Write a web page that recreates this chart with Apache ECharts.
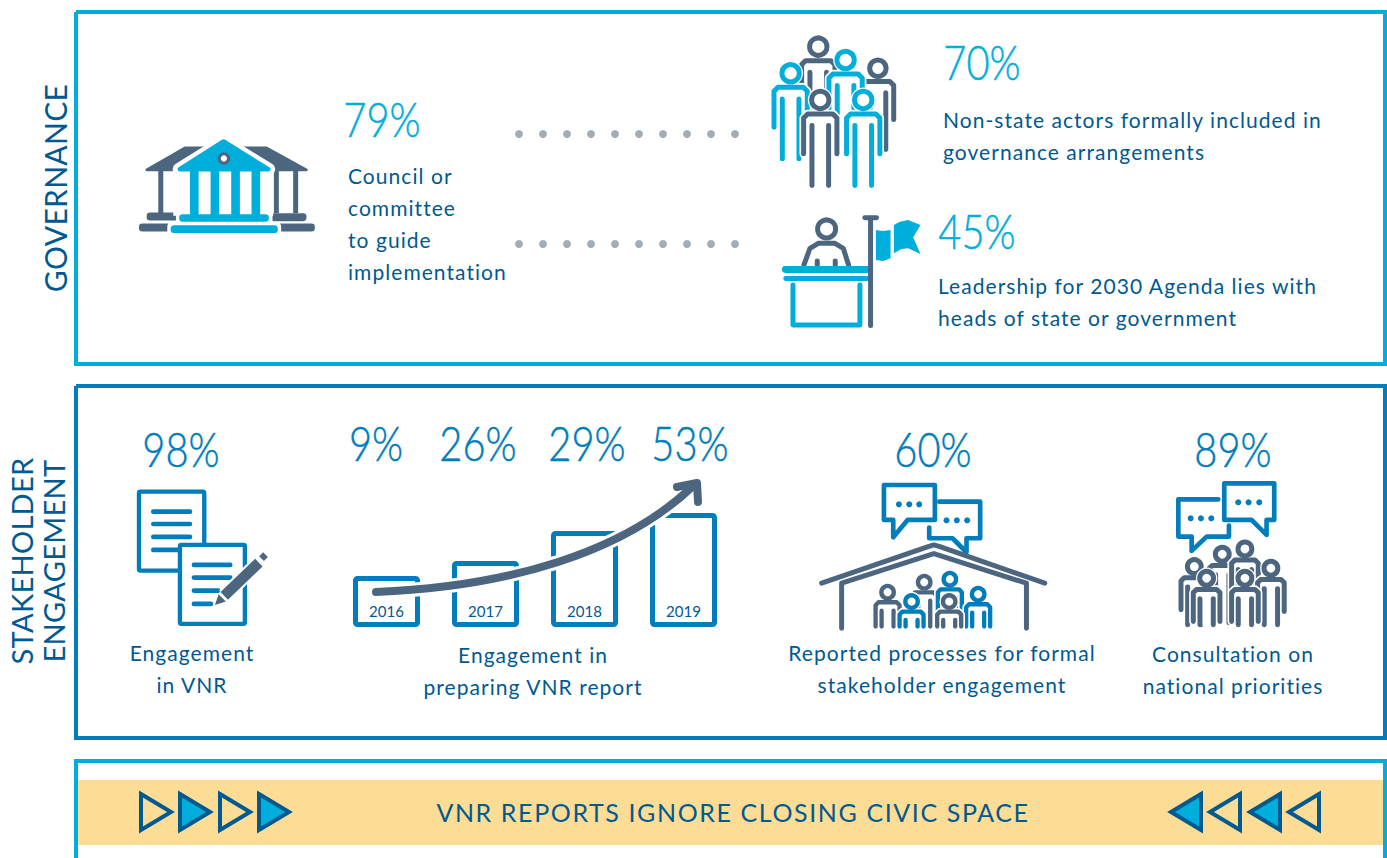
<!DOCTYPE html>
<html>
<head>
<meta charset="utf-8">
<title>VNR governance and stakeholder engagement</title>
<script src="https://cdn.jsdelivr.net/npm/echarts@6/dist/echarts.min.js"></script>
<style>
html, body { margin: 0; padding: 0; background: #fff; }
#main { width: 1387px; height: 858px; }
#main text { letter-spacing: 1.05px; }
#main text[style*="15px"] { letter-spacing: 0; }
#main text[style*="25px"] { letter-spacing: 1.6px; }
#main text[style*="29px"], #main text[style*="30px"] { letter-spacing: 0.3px; }
#main text[style*="48px"] { letter-spacing: 0; }
</style>
</head>
<body>
<div id="main"></div>
<script>
// data
const governanceLabels = [['Council or', 'committee', 'to guide', 'implementation'], ['Non-state actors formally included in', 'governance arrangements'], ['Leadership for 2030 Agenda lies with', 'heads of state or government']]
const governanceValues = [79, 70, 45]
const engagementLabels = [['Engagement', 'in VNR'], ['Reported processes for formal', 'stakeholder engagement'], ['Consultation on', 'national priorities']]
const engagementValues = [98, 60, 89]
const years = ['2016', '2017', '2018', '2019']
const yearValues = [9, 26, 29, 53]
const yearLabels = ['Engagement in', 'preparing VNR report']
// heights of the icon bars, the picture does not draw them to the scale of yearValues
const yearBarHeights = [51, 66, 96, 114]
const bannerText = 'VNR REPORTS IGNORE CLOSING CIVIC SPACE'

const CYAN = '#00aedb'
const BLUE = '#007dba'
const NAVY = '#00598f'
const SLATE = '#4d6680'
const GOLD = '#fddc96'
const DOT = '#a3adb8'
const FONT = 'Lato'

const Z = 10

// text helpers, y is the baseline
const label = (text, x, y, align, size = 21, color = NAVY, extra = {}) => Object.assign({
  type: 'text', x, y: y - size * 0.36, z: Z,
  style: { text, fill: color, font: (size === 48 ? '300 ' : '400 ') + size + 'px ' + FONT, textAlign: align || 'left', textVerticalAlign: 'middle' }
}, extra)
const pct = (value, x, y, color) => {
  const t = label(value + '%', x, y - 3, 'center', 48, color, { scaleX: 0.83, scaleY: 1 })
  t.style.stroke = color
  t.style.lineWidth = 0.5
  return t
}
const rotated = (text, x, y, size) => label(text, x, y, 'center', size, NAVY, { rotation: Math.PI / 2, x, y })

// icon helpers, icons are drawn in 3x coordinates and scaled down in a group
const line = (points, color, lw) => ({ type: 'polyline', z: Z, shape: { points }, style: { stroke: color, lineWidth: lw, fill: 'none', lineCap: 'round', lineJoin: 'round' } })
const bar = (points, color, lw) => ({ type: 'polyline', z: Z, shape: { points }, style: { stroke: color, lineWidth: lw, fill: 'none' } })
const poly = (points, color, strokeColor, lw) => ({ type: 'polygon', z: Z, shape: { points }, style: { fill: color, stroke: strokeColor || 'none', lineWidth: lw || 0, lineJoin: 'round' } })
const box = (x, y, width, height, r, color) => ({ type: 'rect', z: Z, shape: { x, y, width, height, r }, style: { fill: color } })
const frame = (x, y, width, height, r, color, lw, fill) => ({ type: 'rect', z: Z, shape: { x, y, width, height, r }, style: { fill: fill || 'none', stroke: color, lineWidth: lw } })
const dot = (cx, cy, r, color) => ({ type: 'circle', z: Z, shape: { cx, cy, r }, style: { fill: color } })
const ring = (cx, cy, r, color, lw) => ({ type: 'circle', z: Z, shape: { cx, cy, r }, style: { fill: '#fff', stroke: color, lineWidth: lw } })
const icon = (x, y, children) => ({ type: 'group', x, y, scaleX: 1 / 3, scaleY: 1 / 3, z: Z, children })

function person(cx, headY, color, s, lw, cutY) {
  const sh = headY + 42 * s
  const a = 50 * s
  const c = 12 * s
  const armEnd = Math.min(sh + 120 * s, cutY || 9999)
  const legEnd = Math.min(sh + 215 * s, cutY || 9999)
  const body = [[cx - a, armEnd], [cx - a, sh + c], [cx - a + c, sh], [cx + a - c, sh], [cx + a, sh + c], [cx + a, armEnd]]
  return [
    poly(body, '#fff', '#fff', lw + 10),
    { type: 'circle', z: Z, shape: { cx, cy: headY, r: 26 * s + lw / 2 + 4 }, style: { fill: '#fff' } },
    ring(cx, headY, 26 * s, color, lw),
    line(body, color, lw),
    line([[cx - 25 * s, sh + 35 * s], [cx - 25 * s, legEnd]], color, lw),
    line([[cx + 25 * s, sh + 35 * s], [cx + 25 * s, legEnd]], color, lw)
  ]
}

function bank() {
  return icon(120, 20, [
    poly([[80, 450], [195, 384], [440, 384], [560, 450]], SLATE, SLATE, 8),
    box(115, 450, 15, 130, 0, SLATE), box(170, 450, 15, 130, 0, SLATE),
    box(462, 450, 15, 130, 0, SLATE), box(520, 450, 15, 130, 0, SLATE),
    box(80, 578, 100, 24, 10, SLATE), box(450, 580, 110, 24, 10, SLATE),
    box(57, 611, 100, 24, 10, SLATE), box(470, 611, 115, 24, 10, SLATE),
    poly([[176, 448], [311, 364], [448, 448]], '#fff', '#fff', 36),
    box(160, 448, 35, 140, 0, '#fff'), box(430, 448, 30, 140, 0, '#fff'),
    box(142, 606, 342, 44, 14, '#fff'), box(168, 575, 290, 42, 14, '#fff'),
    poly([[180, 448], [311, 365], [445, 448]], CYAN, CYAN, 14),
    ring(312, 416, 14, SLATE, 9),
    box(210, 450, 26, 136, 0, CYAN), box(272, 450, 26, 136, 0, CYAN),
    box(334, 450, 26, 136, 0, CYAN), box(395, 450, 26, 136, 0, CYAN),
    box(178, 583, 269, 23, 10, CYAN),
    box(152, 616, 322, 24, 11, CYAN)
  ])
}

function crowd() {
  return icon(760, 25, [].concat(
    person(175, 65, SLATE, 1, 15),
    person(354, 130, SLATE, 0.95, 15),
    person(92, 145, CYAN, 1, 15),
    person(257, 105, CYAN, 1, 15),
    person(181, 225, SLATE, 1, 15),
    person(310, 225, CYAN, 1, 15)
  ))
}

function lectern() {
  return icon(770, 205, [
    ring(170, 72, 27, SLATE, 15),
    line([[102, 180], [120, 130], [145, 115], [195, 115], [220, 130], [236, 180]], SLATE, 15),
    line([[142, 168], [142, 180]], SLATE, 15),
    line([[196, 168], [196, 180]], SLATE, 15),
    box(36, 183, 266, 21, 10, CYAN),
    box(40, 213, 260, 15, 7, CYAN),
    line([[69, 240], [69, 360], [270, 360], [270, 240]], CYAN, 15),
    line([[302, 40], [302, 362]], SLATE, 15),
    line([[285, 38], [320, 38]], SLATE, 15),
    poly([[318, 75], [340, 78], [362, 75], [362, 160], [340, 168], [318, 165]], CYAN),
    poly([[372, 60], [390, 50], [415, 45], [452, 60], [430, 97], [452, 147], [415, 130], [395, 132], [372, 145]], CYAN)
  ])
}

function documents() {
  const lines = (rows) => rows.map(r => line([[r[0], r[2]], [r[1], r[2]]], BLUE, 14))
  return icon(125, 480, [
    frame(42, 35, 196, 237, 4, BLUE, 13, '#fff')
  ].concat(lines([[85, 195, 95], [85, 195, 132], [85, 195, 171], [85, 195, 210]]), [
    frame(165, 195, 195, 237, 4, BLUE, 13, '#fff')
  ], lines([[207, 316, 255], [207, 316, 293], [207, 280, 332], [207, 258, 372]]), [
    bar([[298, 348], [402, 248]], '#fff', 44),
    bar([[298, 348], [402, 248]], SLATE, 32),
    bar([[410, 236], [422, 224]], SLATE, 20),
    poly([[270, 375], [281, 343], [303, 365]], SLATE)
  ]))
}

function bubble(points, dots, color, lw) {
  return [line(points, color, lw)].concat(dots.map(d => dot(d[0], d[1], 9, color)))
}

function house() {
  return icon(810, 475, [].concat(
    bubble([[222, 30], [375, 30], [375, 135], [293, 135], [250, 187], [250, 135], [222, 135], [222, 30]], [[267, 88], [298, 88], [328, 88]], BLUE, 14),
    bubble([[388, 80], [511, 80], [511, 190], [470, 190], [470, 232], [428, 190], [358, 190], [358, 158]], [[410, 136], [441, 136], [472, 136]], BLUE, 14),
    [line([[35, 325], [355, 215], [372, 210], [390, 215], [705, 325]], SLATE, 15),
     line([[95, 460], [95, 325], [372, 236], [650, 325], [650, 460]], SLATE, 15)],
    person(233, 352, SLATE, 0.72, 13, 455),
    person(343, 322, SLATE, 0.72, 13, 455),
    person(420, 313, BLUE, 0.72, 13, 455),
    person(505, 358, BLUE, 0.72, 13, 455),
    person(305, 380, BLUE, 0.72, 13, 455),
    person(418, 380, SLATE, 0.72, 13, 455)
  ))
}

function crowdTalk() {
  return icon(1165, 475, [].concat(
    bubble([[160, 73], [40, 73], [40, 185], [80, 185], [80, 228], [125, 185], [192, 185], [192, 152]], [[77, 130], [108, 130], [139, 130]], BLUE, 14),
    bubble([[178, 25], [328, 25], [328, 135], [305, 135], [305, 180], [260, 135], [178, 135], [178, 25]], [[220, 82], [251, 82], [283, 82]], BLUE, 14),
    person(172, 238, SLATE, 0.8, 15, 450),
    person(240, 222, SLATE, 0.8, 15, 450),
    person(88, 275, SLATE, 0.8, 15, 450),
    person(318, 280, SLATE, 0.8, 15, 450),
    person(125, 310, SLATE, 0.8, 15, 450),
    person(240, 310, SLATE, 0.8, 15, 450)
  ))
}

function triangle(tipX, baseX, fill) {
  return { type: 'polygon', z: Z, shape: { points: [[baseX, 794], [tipX, 812], [baseX, 830]] }, style: { fill, stroke: NAVY, lineWidth: 4, lineJoin: 'miter' } }
}

const panels = [
  { type: 'polyline', z: 1, shape: { points: [[76, 12], [1385, 12], [1385, 364], [76, 364], [76, 12]] }, style: { stroke: CYAN, lineWidth: 4, fill: 'none' } },
  { type: 'polyline', z: 1, shape: { points: [[76, 386], [1385, 386], [1385, 738], [76, 738], [76, 386]] }, style: { stroke: BLUE, lineWidth: 4, fill: 'none' } },
  { type: 'rect', z: 1, shape: { x: 78, y: 780, width: 1306, height: 65 }, style: { fill: GOLD } },
  { type: 'polyline', z: 1, shape: { points: [[76, 858], [76, 761], [1385, 761], [1385, 858]] }, style: { stroke: CYAN, lineWidth: 4, fill: 'none' } }
]

const dotRows = []
;[134, 244].forEach(y => {
  for (let i = 0; i < 10; i++) dotRows.push({ type: 'circle', z: Z, shape: { cx: 519 + i * 24, cy: y, r: 4 }, style: { fill: DOT } })
})

const linesAt = (rows, x, y, align) => rows.map((row, i) => label(row, x, y + i * 32, align))

const texts = [
  rotated('GOVERNANCE', 55, 188, 30),
  rotated('STAKEHOLDER', 21, 561, 29),
  rotated('ENGAGEMENT', 53, 561, 29),

  pct(governanceValues[0], 382, 138, CYAN),
  ...linesAt(governanceLabels[0], 348, 183),
  pct(governanceValues[1], 982, 81, CYAN),
  ...linesAt(governanceLabels[1], 943, 127),
  pct(governanceValues[2], 977, 250, CYAN),
  ...linesAt(governanceLabels[2], 938, 293),

  pct(engagementValues[0], 181, 468, BLUE),
  ...linesAt(engagementLabels[0], 192, 660, 'center'),
  pct(yearValues[0], 376, 462, BLUE), pct(yearValues[1], 478, 462, BLUE), pct(yearValues[2], 587, 462, BLUE), pct(yearValues[3], 690, 462, BLUE),
  ...linesAt(yearLabels, 533, 662, 'center'),
  pct(engagementValues[1], 933, 468, BLUE),
  ...linesAt(engagementLabels[1], 942, 660, 'center'),
  pct(engagementValues[2], 1233, 468, BLUE),
  ...linesAt(engagementLabels[2], 1233, 661, 'center'),

  label(bannerText, 733, 821, 'center', 25, NAVY)
]

// arrow over the year bars, the white copy cuts the bars like in the original
const arrowShape = { x1: 376, y1: 592, cpx1: 507, cpy1: 587, cpx2: 623, cpy2: 553, x2: 693, y2: 486 }
const arrow = [
  { type: 'bezierCurve', z: Z, shape: arrowShape, style: { stroke: '#fff', lineWidth: 14, fill: 'none' } },
  { type: 'bezierCurve', z: Z, shape: arrowShape, style: { stroke: SLATE, lineWidth: 8, fill: 'none', lineCap: 'round' } },
  line([[677, 487], [697, 483], [698, 502]], SLATE, 8)
]

const triangles = [
  triangle(171, 141, 'none'), triangle(210, 180, CYAN), triangle(250, 220, 'none'), triangle(289, 259, CYAN),
  triangle(1171, 1201, CYAN), triangle(1210, 1240, 'none'), triangle(1250, 1280, CYAN), triangle(1289, 1319, 'none')
]

const chart = echarts.init(document.getElementById('main'), null, { renderer: 'svg' })
chart.setOption({
  animation: false,
  backgroundColor: '#fff',
  grid: { left: 337, width: 396, top: 507, height: 120 },
  xAxis: { type: 'category', data: years, show: false },
  yAxis: { type: 'value', min: 0, max: 120, show: false },
  series: [{
    type: 'bar',
    data: yearBarHeights,
    barWidth: 67,
    z: 5,
    itemStyle: { color: '#fff', borderColor: BLUE, borderWidth: 5, borderRadius: 2 },
    label: { show: true, position: 'insideBottom', distance: 9, formatter: '{b}', color: NAVY, fontFamily: FONT, fontSize: 15 }
  }],
  graphic: { elements: [].concat(panels, dotRows, triangles, texts, arrow, [bank(), crowd(), lectern(), documents(), house(), crowdTalk()]) }
})
</script>
</body>
</html>
